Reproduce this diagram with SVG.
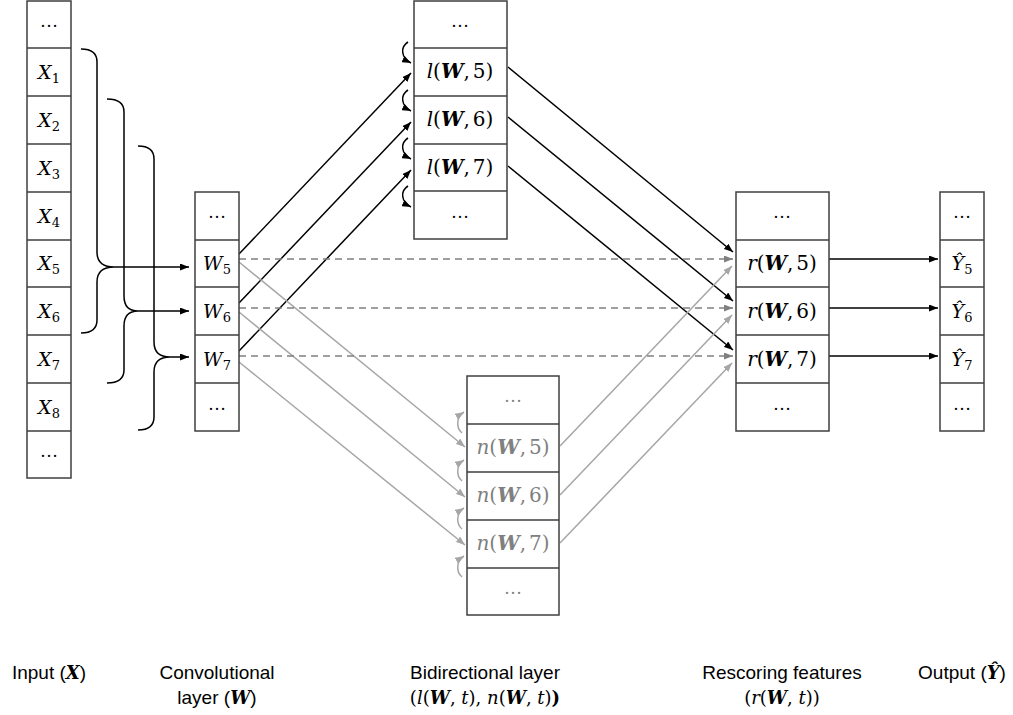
<svg xmlns="http://www.w3.org/2000/svg" width="1013" height="715" viewBox="0 0 1013 715">
<style>
.box{fill:#fff;stroke:#3f3f3f;stroke-width:1.5}
.div{stroke:#3f3f3f;stroke-width:1.5}
.m{font-family:"DejaVu Serif","Liberation Serif",serif;font-size:19px;fill:#000}
.f{font-size:20px}
.mg{fill:#808080}
.el{font-family:"Liberation Serif",serif;font-size:18px}
.i{font-style:italic}
.bi{font-style:italic;font-weight:bold}
.sub{font-size:13px;font-style:normal}
.lab{font-family:"Liberation Sans",Arial,sans-serif;font-size:19px;fill:#000}
.lm{font-family:"DejaVu Serif","Liberation Serif",serif;font-size:18px}
.blk{stroke:#000;stroke-width:1.5;fill:none}
.gry{stroke:#a6a6a6;stroke-width:1.5;fill:none}
.dsh{stroke:#808080;stroke-width:1.5;fill:none;stroke-dasharray:7 5}
</style>
<defs>
<marker id="ab" viewBox="0 0 10 10" refX="10" refY="5" markerUnits="userSpaceOnUse" markerWidth="9" markerHeight="7" orient="auto" preserveAspectRatio="none"><path d="M0,0 L10,5 L0,10 z" fill="#000"/></marker>
<marker id="ag" viewBox="0 0 10 10" refX="10" refY="5" markerUnits="userSpaceOnUse" markerWidth="9" markerHeight="7" orient="auto" preserveAspectRatio="none"><path d="M0,0 L10,5 L0,10 z" fill="#a6a6a6"/></marker>
<marker id="ad" viewBox="0 0 10 10" refX="10" refY="5" markerUnits="userSpaceOnUse" markerWidth="9" markerHeight="7" orient="auto" preserveAspectRatio="none"><path d="M0,0 L10,5 L0,10 z" fill="#808080"/></marker>
</defs>

<g id="connectors">
<path class="blk" d="M81,49 C91,49 97,53 97,62 L97,252 C97,262 103,267 114,267 C103,267 97,272 97,282 L97,320 C97,329 91,333 81,333"/>
<path class="blk" d="M107,99 C117,99 124,103 124,112 L124,296 C124,306 129,311 138,311 C129,311 124,316 124,326 L124,370 C124,379 117,383 107,383"/>
<path class="blk" d="M138,146 C148,146 154,150 154,159 L154,342 C154,352 160,357 170,357 C160,357 154,362 154,372 L154,417 C154,426 148,430 138,430"/>
<line class="blk" x1="114" y1="267" x2="189" y2="267" marker-end="url(#ab)"/>
<line class="blk" x1="138" y1="311" x2="189" y2="311" marker-end="url(#ab)"/>
<line class="blk" x1="170" y1="357" x2="189" y2="357" marker-end="url(#ab)"/>
<line class="blk" x1="239" y1="254" x2="411" y2="73" marker-end="url(#ab)"/>
<line class="blk" x1="239" y1="303" x2="411" y2="122" marker-end="url(#ab)"/>
<line class="blk" x1="239" y1="351" x2="411" y2="170" marker-end="url(#ab)"/>
<line class="blk" x1="508" y1="67" x2="733" y2="252" marker-end="url(#ab)"/>
<line class="blk" x1="508" y1="117" x2="733" y2="301" marker-end="url(#ab)"/>
<line class="blk" x1="508" y1="166" x2="733" y2="350" marker-end="url(#ab)"/>
<line class="gry" x1="239" y1="262" x2="465" y2="447" marker-end="url(#ag)"/>
<line class="gry" x1="239" y1="312" x2="465" y2="497" marker-end="url(#ag)"/>
<line class="gry" x1="239" y1="362" x2="465" y2="545" marker-end="url(#ag)"/>
<line class="gry" x1="560" y1="446" x2="732" y2="266" marker-end="url(#ag)"/>
<line class="gry" x1="560" y1="495" x2="732" y2="315" marker-end="url(#ag)"/>
<line class="gry" x1="560" y1="543" x2="732" y2="363" marker-end="url(#ag)"/>
<line class="dsh" x1="239" y1="259" x2="733" y2="259" marker-end="url(#ad)"/>
<line class="dsh" x1="239" y1="308" x2="733" y2="308" marker-end="url(#ad)"/>
<line class="dsh" x1="239" y1="356" x2="733" y2="356" marker-end="url(#ad)"/>
<line class="blk" x1="829" y1="259" x2="938" y2="259" marker-end="url(#ab)"/>
<line class="blk" x1="829" y1="308" x2="938" y2="308" marker-end="url(#ab)"/>
<line class="blk" x1="829" y1="356" x2="938" y2="356" marker-end="url(#ab)"/>
<path class="blk" d="M408,42 C400,47 401,58 411,63" marker-end="url(#ab)"/>
<path class="blk" d="M408,90 C400,95 401,106 411,111" marker-end="url(#ab)"/>
<path class="blk" d="M408,138 C400,143 401,154 411,159" marker-end="url(#ab)"/>
<path class="blk" d="M408,186 C400,191 401,202 411,207" marker-end="url(#ab)"/>
<path class="gry" d="M462,433 C456,428 456,417 464,412" marker-end="url(#ag)"/>
<path class="gry" d="M462,481 C456,476 456,465 464,460" marker-end="url(#ag)"/>
<path class="gry" d="M462,529 C456,524 456,513 464,508" marker-end="url(#ag)"/>
<path class="gry" d="M462,577 C456,572 456,561 464,556" marker-end="url(#ag)"/>
</g>

<g id="input">
<rect class="box" x="27" y="1" width="44" height="477"/>
<path class="div" d="M27,48H71M27,96H71M27,144H71M27,192H71M27,240H71M27,287H71M27,335H71M27,383H71M27,431H71"/>
<text class="el" x="49" y="27" text-anchor="middle">…</text>
<text class="m" x="49" y="79" text-anchor="middle"><tspan class="i">X</tspan><tspan class="sub" dy="4">1</tspan></text>
<text class="m" x="49" y="127" text-anchor="middle"><tspan class="i">X</tspan><tspan class="sub" dy="4">2</tspan></text>
<text class="m" x="49" y="175" text-anchor="middle"><tspan class="i">X</tspan><tspan class="sub" dy="4">3</tspan></text>
<text class="m" x="49" y="223" text-anchor="middle"><tspan class="i">X</tspan><tspan class="sub" dy="4">4</tspan></text>
<text class="m" x="49" y="270" text-anchor="middle"><tspan class="i">X</tspan><tspan class="sub" dy="4">5</tspan></text>
<text class="m" x="49" y="318" text-anchor="middle"><tspan class="i">X</tspan><tspan class="sub" dy="4">6</tspan></text>
<text class="m" x="49" y="366" text-anchor="middle"><tspan class="i">X</tspan><tspan class="sub" dy="4">7</tspan></text>
<text class="m" x="49" y="414" text-anchor="middle"><tspan class="i">X</tspan><tspan class="sub" dy="4">8</tspan></text>
<text class="el" x="49" y="457" text-anchor="middle">…</text>
</g>

<g id="conv">
<rect class="box" x="195" y="192" width="44" height="239"/>
<path class="div" d="M195,240H239M195,287H239M195,335H239M195,383H239"/>
<text class="el" x="217" y="218" text-anchor="middle">…</text>
<text class="m" x="217" y="270" text-anchor="middle"><tspan class="i">W</tspan><tspan class="sub" dy="4">5</tspan></text>
<text class="m" x="217" y="318" text-anchor="middle"><tspan class="i">W</tspan><tspan class="sub" dy="4">6</tspan></text>
<text class="m" x="217" y="366" text-anchor="middle"><tspan class="i">W</tspan><tspan class="sub" dy="4">7</tspan></text>
<text class="el" x="217" y="410" text-anchor="middle">…</text>
</g>

<g id="forward">
<rect class="box" x="414" y="1" width="93" height="238"/>
<path class="div" d="M414,48H507M414,96H507M414,144H507M414,191H507"/>
<text class="el" x="460" y="27" text-anchor="middle">…</text>
<text class="m f" x="460" y="78" text-anchor="middle"><tspan class="i">l</tspan>(<tspan class="bi">W</tspan>,<tspan dx="3">5</tspan>)</text>
<text class="m f" x="460" y="126" text-anchor="middle"><tspan class="i">l</tspan>(<tspan class="bi">W</tspan>,<tspan dx="3">6</tspan>)</text>
<text class="m f" x="460" y="174" text-anchor="middle"><tspan class="i">l</tspan>(<tspan class="bi">W</tspan>,<tspan dx="3">7</tspan>)</text>
<text class="el" x="460" y="218" text-anchor="middle">…</text>
</g>

<g id="backward">
<rect class="box" x="467" y="376" width="92" height="239"/>
<path class="div" d="M467,424H559M467,472H559M467,520H559M467,568H559"/>
<text class="el mg" x="513" y="402" text-anchor="middle">…</text>
<text class="m f mg" x="513" y="454" text-anchor="middle"><tspan class="i">n</tspan>(<tspan class="bi">W</tspan>,<tspan dx="3">5</tspan>)</text>
<text class="m f mg" x="513" y="502" text-anchor="middle"><tspan class="i">n</tspan>(<tspan class="bi">W</tspan>,<tspan dx="3">6</tspan>)</text>
<text class="m f mg" x="513" y="550" text-anchor="middle"><tspan class="i">n</tspan>(<tspan class="bi">W</tspan>,<tspan dx="3">7</tspan>)</text>
<text class="el mg" x="513" y="594" text-anchor="middle">…</text>
</g>

<g id="rescoring">
<rect class="box" x="736" y="192" width="93" height="239"/>
<path class="div" d="M736,240H829M736,287H829M736,335H829M736,383H829"/>
<text class="el" x="782" y="218" text-anchor="middle">…</text>
<text class="m f" x="782" y="270" text-anchor="middle"><tspan class="i">r</tspan>(<tspan class="bi">W</tspan>,<tspan dx="3">5</tspan>)</text>
<text class="m f" x="782" y="318" text-anchor="middle"><tspan class="i">r</tspan>(<tspan class="bi">W</tspan>,<tspan dx="3">6</tspan>)</text>
<text class="m f" x="782" y="366" text-anchor="middle"><tspan class="i">r</tspan>(<tspan class="bi">W</tspan>,<tspan dx="3">7</tspan>)</text>
<text class="el" x="782" y="410" text-anchor="middle">…</text>
</g>

<g id="output">
<rect class="box" x="940" y="192" width="44" height="239"/>
<path class="div" d="M940,240H984M940,287H984M940,335H984M940,383H984"/>
<text class="el" x="962" y="218" text-anchor="middle">…</text>
<text class="m" x="962" y="270" text-anchor="middle"><tspan class="i">Ŷ</tspan><tspan class="sub" dy="4">5</tspan></text>
<text class="m" x="962" y="318" text-anchor="middle"><tspan class="i">Ŷ</tspan><tspan class="sub" dy="4">6</tspan></text>
<text class="m" x="962" y="366" text-anchor="middle"><tspan class="i">Ŷ</tspan><tspan class="sub" dy="4">7</tspan></text>
<text class="el" x="962" y="410" text-anchor="middle">…</text>
</g>

<g id="labels">
<text class="lab" x="49" y="679" text-anchor="middle">Input (<tspan class="lm bi">X</tspan>)</text>
<text class="lab" x="217" y="679" text-anchor="middle">Convolutional</text>
<text class="lab" x="217" y="704" text-anchor="middle">layer (<tspan class="lm bi">W</tspan>)</text>
<text class="lab" x="485" y="679" text-anchor="middle">Bidirectional layer</text>
<text class="lm" x="485" y="704" text-anchor="middle">(<tspan class="i">l</tspan>(<tspan class="bi">W</tspan>, <tspan class="i">t</tspan>), <tspan class="i">n</tspan>(<tspan class="bi">W</tspan>, <tspan class="i">t</tspan>)<tspan font-weight="bold">)</tspan></text>
<text class="lab" x="782" y="679" text-anchor="middle">Rescoring features</text>
<text class="lm" x="782" y="704" text-anchor="middle">(<tspan class="i">r</tspan>(<tspan class="bi">W</tspan>, <tspan class="i">t</tspan>))</text>
<text class="lab" x="962" y="679" text-anchor="middle">Output (<tspan class="lm bi">Ŷ</tspan>)</text>
</g>
</svg>
